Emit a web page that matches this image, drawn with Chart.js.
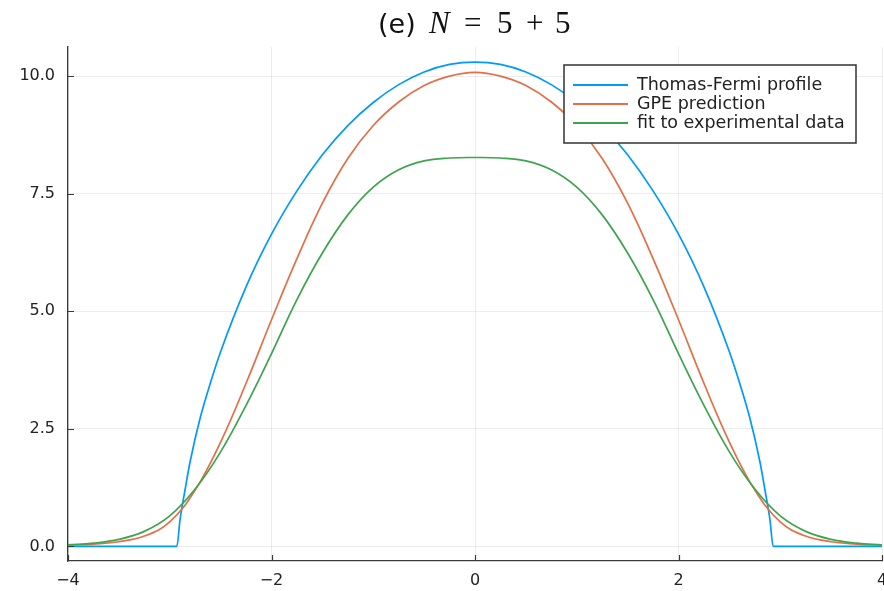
<!DOCTYPE html>
<html>
<head>
<meta charset="utf-8">
<script src="https://cdn.jsdelivr.net/npm/chart.js@4.4.0/dist/chart.umd.min.js"></script>
<style>
  html, body { margin: 0; padding: 0; background: #fff; }
</style>
</head>
<body>
<canvas id="chart" width="884" height="591"></canvas>
<script>
// x grid shared by the GPE and fit curves
const xs = [-4, -3.75, -3.5, -3.25, -3, -2.75, -2.5, -2.25, -2, -1.75, -1.5, -1.25, -1, -0.75, -0.5, -0.25,
  0, 0.25, 0.5, 0.75, 1, 1.25, 1.5, 1.75, 2, 2.25, 2.5, 2.75, 3, 3.25, 3.5, 3.75, 4];
const gpe = [0.02, 0.05, 0.1, 0.22, 0.52, 1.2, 2.22, 3.47, 4.82, 6.12, 7.3, 8.25, 8.95, 9.45, 9.8, 10.0,
  10.08, 10.0, 9.8, 9.45, 8.95, 8.25, 7.3, 6.12, 4.82, 3.47, 2.22, 1.2, 0.52, 0.22, 0.1, 0.05, 0.02];
const fitExp = [0.035, 0.07, 0.15, 0.32, 0.65, 1.22, 2.01, 3.0, 4.1, 5.25, 6.24, 7.05, 7.64, 8.01, 8.2, 8.26,
  8.27, 8.26, 8.2, 8.01, 7.64, 7.05, 6.24, 5.25, 4.1, 3.0, 2.01, 1.22, 0.65, 0.32, 0.15, 0.07, 0.035];

// Thomas-Fermi profile has its own x samples (sharp edge near +-2.93)
const tfX = [-4, -2.93, -2.9, -2.85, -2.8, -2.7, -2.6, -2.5, -2.25, -2, -1.75, -1.5, -1.25, -1, -0.75, -0.5, -0.25,
  0, 0.25, 0.5, 0.75, 1, 1.25, 1.5, 1.75, 2, 2.25, 2.5, 2.6, 2.7, 2.8, 2.85, 2.9, 2.93, 4];
const tfY = [0, 0, 0.55, 1.2, 1.8, 2.74, 3.48, 4.14, 5.52, 6.64, 7.56, 8.33, 8.95, 9.44, 9.82, 10.09, 10.25,
  10.3, 10.25, 10.09, 9.82, 9.44, 8.95, 8.33, 7.56, 6.64, 5.52, 4.14, 3.48, 2.74, 1.8, 1.2, 0.55, 0, 0];

const xTicks = [-4, -2, 0, 2, 4];
const yTicks = [0, 2.5, 5, 7.5, 10];
const names = ['Thomas-Fermi profile', 'GPE prediction', 'fit to experimental data'];
const colors = ['#009AFA', '#E36F47', '#3EA44E'];

const axisColor = '#3a3a3a';
const sans = "'DejaVu Sans', sans-serif";
const serif = '"Liberation Serif", serif';

const pts = (xv, yv) => xv.map((x, i) => ({ x: x, y: yv[i] }));

// ticks in Plots.jl point into the plot
const innerTicks = {
  id: 'innerTicks',
  afterDraw(chart) {
    const { ctx, chartArea, scales } = chart;
    ctx.save();
    ctx.strokeStyle = axisColor;
    ctx.lineWidth = 1.2;
    ctx.beginPath();
    xTicks.forEach(v => {
      const px = Math.round(scales.x.getPixelForValue(v)) + 0.5;
      ctx.moveTo(px, chartArea.bottom);
      ctx.lineTo(px, chartArea.bottom - 6);
    });
    yTicks.forEach(v => {
      const py = Math.round(scales.y.getPixelForValue(v)) + 0.5;
      ctx.moveTo(chartArea.left, py);
      ctx.lineTo(chartArea.left + 6, py);
    });
    ctx.stroke();
    ctx.restore();
  }
};

const boxLegend = {
  id: 'boxLegend',
  afterDraw(chart) {
    const { ctx, chartArea } = chart;
    const w = 292, rowH = 19;
    const left = chartArea.right - 26 - w;
    const top = chartArea.top + 18;
    const h = rowH * names.length + 21;
    ctx.save();
    ctx.fillStyle = '#fff';
    ctx.fillRect(left, top, w, h);
    ctx.strokeStyle = '#333';
    ctx.lineWidth = 1.5;
    ctx.strokeRect(left, top, w, h);
    ctx.font = '17.5px ' + sans;
    ctx.textBaseline = 'middle';
    ctx.fillStyle = '#222';
    chart.data.datasets.forEach((ds, i) => {
      const y = top + 20 + i * rowH;
      ctx.strokeStyle = ds.borderColor;
      ctx.lineWidth = 1.8;
      ctx.beginPath();
      ctx.moveTo(left + 9, y);
      ctx.lineTo(left + 64, y);
      ctx.stroke();
      ctx.fillText(ds.label, left + 73, y);
    });
    ctx.restore();
  }
};

// title "(e) N = 5 + 5", math part in a serif face, pieces placed from the plot centre
const titleParts = [
  ['(e)', '27px ' + sans, -97],
  ['N', 'italic 31px ' + serif, -46],
  ['=', '31px ' + serif, -11],
  ['5', '31px ' + serif, 22],
  ['+', '31px ' + serif, 51],
  ['5', '31px ' + serif, 80]
];
const mathTitle = {
  id: 'mathTitle',
  afterDraw(chart) {
    const { ctx, chartArea } = chart;
    const cx = (chartArea.left + chartArea.right) / 2;
    ctx.save();
    ctx.fillStyle = '#111';
    ctx.textBaseline = 'alphabetic';
    titleParts.forEach(p => {
      ctx.font = p[1];
      ctx.fillText(p[0], cx + p[2], 33);
    });
    ctx.restore();
  }
};

new Chart(document.getElementById('chart'), {
  type: 'line',
  data: {
    datasets: [
      { label: names[0], data: pts(tfX, tfY), borderColor: colors[0], order: 3, cubicInterpolationMode: 'monotone' },
      { label: names[1], data: pts(xs, gpe), borderColor: colors[1], order: 2, tension: 0.4 },
      { label: names[2], data: pts(xs, fitExp), borderColor: colors[2], order: 1, tension: 0.4 }
    ]
  },
  options: {
    responsive: false,
    animation: false,
    layout: { padding: { top: 47, right: 2, left: 0, bottom: 0 }, autoPadding: false },
    elements: {
      point: { radius: 0 },
      line: { borderWidth: 1.7, fill: false }
    },
    plugins: {
      legend: { display: false },
      title: { display: false },
      tooltip: { enabled: false }
    },
    scales: {
      x: {
        type: 'linear',
        min: -4,
        max: 4,
        afterBuildTicks: s => { s.ticks = xTicks.map(v => ({ value: v })); },
        afterFit: s => { s.height = 30; s.paddingLeft = 0; s.paddingRight = 0; },
        grid: { color: 'rgba(0,0,0,0.07)', drawTicks: false },
        border: { color: axisColor, width: 1.3 },
        ticks: {
          padding: 10,
          color: '#222',
          font: { family: sans, size: 16 },
          maxRotation: 0,
          callback: v => (v < 0 ? '\u2212' + Math.abs(v) : String(v))
        }
      },
      y: {
        min: -0.31,
        max: 10.62,
        afterBuildTicks: s => { s.ticks = yTicks.map(v => ({ value: v })); },
        afterFit: s => { s.width = 68; s.paddingTop = 0; s.paddingBottom = 0; },
        grid: { color: 'rgba(0,0,0,0.07)', drawTicks: false },
        border: { color: axisColor, width: 1.3 },
        ticks: {
          padding: 13,
          color: '#222',
          font: { family: sans, size: 16 },
          callback: v => v.toFixed(1)
        }
      }
    }
  },
  plugins: [innerTicks, boxLegend, mathTitle]
});
</script>
</body>
</html>
